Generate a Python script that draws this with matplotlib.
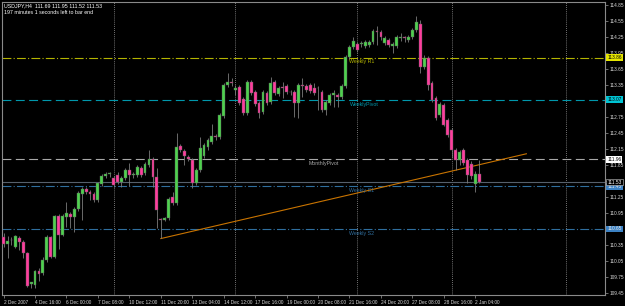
#!/usr/bin/env python3
import matplotlib
matplotlib.use('Agg')
import matplotlib.pyplot as plt
import matplotlib.transforms as mtransforms

# H4 candles USDJPY (open, high, low, close)
opens = [110.50, 110.37, 110.44, 110.31, 110.48, 110.41, 110.20, 109.62, 109.60, 109.86,
         109.82, 110.07, 110.50, 110.12, 110.89, 110.54, 110.87, 110.93, 110.87, 111.02,
         111.31, 111.40, 111.34, 111.31, 111.19, 111.49, 111.64, 111.68, 111.61, 111.66,
         111.53, 111.61, 111.76, 111.66, 111.66, 111.79, 111.70, 111.85, 111.96, 111.62,
         110.84, 110.82, 110.86, 111.25, 111.14, 112.21, 112.11, 112.00, 111.94, 111.51,
         111.76, 112.02, 112.19, 112.28, 112.39, 112.37, 112.77, 113.35, 113.41, 113.26,
         113.31, 113.09, 112.82, 113.41, 113.22, 113.01, 112.84, 113.20, 113.03, 113.41,
         113.18, 113.31, 113.33, 113.22, 113.22, 113.01, 113.35, 113.33, 113.35, 113.29,
         113.29, 113.22, 112.88, 113.01, 113.16, 113.16, 113.12, 113.33, 113.87, 114.06,
         114.12, 114.12, 114.08, 114.10, 114.16, 114.36, 114.34, 114.14, 114.19, 114.08,
         114.08, 114.23, 114.24, 114.19, 114.25, 114.38, 114.49, 113.69, 113.86, 113.39,
         113.11, 112.79, 112.97, 112.69, 112.51, 112.13, 111.94, 112.13, 111.94, 111.87,
         111.50, 111.69]
highs = [110.57, 110.52, 110.50, 110.54, 110.52, 110.44, 110.22, 109.66, 109.88, 109.92,
         110.12, 110.54, 110.52, 110.92, 110.93, 110.93, 111.15, 110.97, 111.06, 111.36,
         111.44, 111.44, 111.38, 111.34, 111.53, 111.68, 111.72, 111.72, 111.64, 111.72,
         111.64, 111.79, 111.89, 111.72, 111.85, 111.83, 111.91, 112.13, 112.00, 111.79,
         110.86, 110.88, 111.25, 111.34, 112.45, 112.24, 112.15, 112.04, 111.98, 111.79,
         112.37, 112.26, 112.36, 112.62, 112.43, 112.82, 113.39, 113.57, 113.48, 113.35,
         113.35, 113.12, 113.44, 113.44, 113.26, 113.05, 113.26, 113.24, 113.50, 113.44,
         113.33, 113.41, 113.37, 113.26, 113.26, 113.39, 113.48, 113.37, 113.39, 113.39,
         113.33, 113.26, 113.07, 113.20, 113.26, 113.20, 113.37, 113.91, 114.10, 114.25,
         114.16, 114.17, 114.19, 114.19, 114.40, 114.46, 114.38, 114.27, 114.23, 114.16,
         114.29, 114.32, 114.27, 114.29, 114.42, 114.64, 114.57, 113.91, 113.89, 113.42,
         113.14, 113.03, 113.01, 112.73, 112.54, 112.17, 112.13, 112.17, 111.98, 111.92,
         111.73, 111.95]
lows = [110.31, 110.11, 110.35, 110.29, 110.26, 110.11, 109.56, 109.54, 109.55, 109.67,
        109.78, 110.03, 110.11, 110.10, 110.27, 110.52, 110.69, 110.67, 110.59, 110.99,
        110.82, 111.31, 111.19, 111.16, 111.16, 111.45, 111.61, 111.62, 111.44, 111.49,
        111.44, 111.57, 111.46, 111.61, 111.62, 111.63, 111.66, 111.81, 111.44, 110.67,
        110.48, 110.80, 110.82, 111.10, 111.10, 112.09, 111.85, 111.92, 111.42, 111.47,
        111.72, 111.98, 112.13, 112.24, 112.32, 112.34, 112.73, 113.31, 113.33, 113.16,
        112.98, 112.79, 112.79, 113.16, 112.96, 112.73, 112.81, 112.98, 112.99, 113.16,
        113.14, 113.11, 113.18, 113.16, 112.75, 112.73, 113.12, 113.22, 113.20, 113.16,
        112.88, 112.84, 112.79, 112.97, 112.94, 112.94, 113.09, 113.29, 113.84, 114.02,
        113.97, 114.06, 114.04, 114.06, 114.12, 114.10, 114.19, 114.10, 114.06, 113.95,
        114.04, 114.17, 114.16, 114.16, 114.21, 114.34, 113.57, 113.65, 113.26, 113.03,
        112.69, 112.75, 112.58, 112.37, 111.98, 111.76, 111.85, 111.85, 111.51, 111.58,
        111.34, 111.52]
closes = [110.37, 110.43, 110.45, 110.52, 110.41, 110.20, 109.58, 109.65, 109.86, 109.81,
          110.07, 110.50, 110.12, 110.89, 110.54, 110.89, 110.95, 110.87, 111.02, 111.32,
          111.40, 111.34, 111.31, 111.19, 111.51, 111.64, 111.68, 111.69, 111.48, 111.53,
          111.61, 111.76, 111.66, 111.67, 111.81, 111.66, 111.87, 111.96, 111.62, 111.01,
          110.82, 110.86, 111.21, 111.14, 112.19, 112.13, 112.02, 111.96, 111.51, 111.76,
          112.17, 112.22, 112.32, 112.39, 112.37, 112.79, 113.35, 113.41, 113.39, 113.29,
          113.01, 112.82, 113.41, 113.20, 112.99, 112.82, 113.22, 113.01, 113.39, 113.20,
          113.29, 113.30, 113.22, 113.21, 113.01, 113.35, 113.34, 113.26, 113.24, 113.20,
          113.30, 112.88, 113.03, 113.16, 113.20, 113.12, 113.33, 113.87, 114.06, 114.17,
          114.01, 114.14, 114.16, 114.16, 114.36, 114.35, 114.25, 114.23, 114.10, 114.12,
          114.25, 114.24, 114.23, 114.25, 114.38, 114.53, 113.69, 113.86, 113.35, 113.07,
          112.73, 112.99, 112.60, 112.41, 112.13, 111.94, 112.09, 111.89, 111.66, 111.64,
          111.68, 111.53]

time_labels = ['2 Dec 2007', '4 Dec 16:00', '6 Dec 00:00', '7 Dec 08:00', '10 Dec 12:00',
               '11 Dec 20:00', '13 Dec 04:00', '14 Dec 12:00', '17 Dec 16:00', '19 Dec 00:00',
               '20 Dec 08:00', '21 Dec 16:00', '24 Dec 20:00', '27 Dec 08:00', '28 Dec 16:00',
               '2 Jan 04:00']
label_step = 8

price_ticks = [114.85, 114.55, 114.25, 113.95, 113.65, 113.35, 113.05, 112.75, 112.45,
               112.15, 111.85, 111.55, 111.25, 110.95, 110.65, 110.35, 110.05, 109.75, 109.45]

# pivot levels drawn by the indicator
level_names = ['Weekly R1', 'WeeklyPivot', 'MonthlyPivot', 'Weekly S1', 'Weekly S2']
level_prices = [113.86, 113.07, 111.96, 111.45, 110.65]
level_colors = ['#b4b400', '#0098ac', '#a8a8a8', '#2f6e9e', '#2f6e9e']
level_styles = [(0, (8, 2, 1, 2)), (0, (8, 4)), (0, (8, 4)), (0, (8, 2, 1, 2)), (0, (8, 2, 1, 2))]
level_boxes = ['#e6e600', '#00c4d4', '#ffffff', '#3c82c4', '#3c82c4']
level_label_bar = [88, 88, 77.5, 88, 88]

bid = 111.53
trend_bars = [40, 133]
trend_prices = [110.47, 112.06]
week_lines = [28, 59, 90, 114, 143]

BULL = '#4ed24e'
BEAR = '#ff3d9e'
WICK = '#7c7c7c'
FONT = 'Liberation Sans'
FS = 3.4


def main():
    fig = plt.figure(figsize=(6.25, 3.06), dpi=100, facecolor='black')
    ax = fig.add_axes([2 / 625, 11 / 306, 603 / 625, 293 / 306])
    ax.set_facecolor('black')

    n = len(opens)
    xs = list(range(n))

    for x in week_lines:
        ax.axvline(x, color='#9a9a9a', lw=0.6, ls=(0, (1, 1.5)), zorder=1)

    for name, p, c, ls in zip(level_names, level_prices, level_colors, level_styles):
        ax.axhline(p, color=c, lw=0.8, ls=ls, zorder=1)
    ax.axhline(bid, color='#56606c', lw=0.8, zorder=1)

    ax.plot(trend_bars, trend_prices, color='#c97400', lw=0.8, zorder=2)

    # candles
    ax.vlines(xs, lows, highs, color=WICK, lw=0.6, zorder=3)
    bottoms = [min(o, c) for o, c in zip(opens, closes)]
    heights = [max(abs(c - o), 0.012) for o, c in zip(opens, closes)]
    colors = [BULL if c >= o else BEAR for o, c in zip(opens, closes)]
    ax.bar(xs, heights, bottom=bottoms, width=0.72, color=colors,
           edgecolor='#5a5a5a', linewidth=0.3, zorder=4)

    for name, p, c, xb in zip(level_names, level_prices, level_colors, level_label_bar):
        ax.text(xb, p - 0.03, name, color=c, fontsize=3.8, family=FONT,
                ha='left', va='top', zorder=5)

    ax.set_xlim(-0.4, 153)
    ax.set_ylim(109.412, 114.906)

    ticks = [i * label_step for i in range(len(time_labels))]
    ax.set_xticks(ticks)
    ax.set_xticklabels(time_labels, fontsize=FS, family=FONT, color='#d8d8d8')
    offset = mtransforms.ScaledTranslation(1.2 / 72, 0, fig.dpi_scale_trans)
    for lab in ax.get_xticklabels():
        lab.set_horizontalalignment('left')
        lab.set_transform(lab.get_transform() + offset)
    ax.tick_params(axis='x', colors='#9a9a9a', length=2.5, width=0.5, pad=0.8)

    # tick labels hidden under the level boxes are left blank
    covered = [p for p in price_ticks
               if any(abs(p - q) < 0.05 for q in level_prices + [bid])]
    ax.yaxis.tick_right()
    ax.set_yticks(price_ticks)
    ax.set_yticklabels(['' if p in covered else '%.2f' % p for p in price_ticks],
                       fontsize=FS, family=FONT, color='#d8d8d8')
    ax.tick_params(axis='y', colors='#9a9a9a', length=2, width=0.5, pad=1.5)
    for lab in ax.get_yticklabels() + ax.get_xticklabels():
        lab.set_color('#d8d8d8')

    for sp in ax.spines.values():
        sp.set_color('#8a8a8a')
        sp.set_linewidth(0.8)

    # price boxes on the scale
    tr = mtransforms.blended_transform_factory(ax.transAxes, ax.transData)
    for p, bc in zip(level_prices, level_boxes):
        tc = 'black' if bc in ('#e6e600', '#00c4d4', '#ffffff') else '#e8e8e8'
        ax.text(1.004, p, '%.2f' % p, transform=tr, fontsize=FS, family=FONT,
                color=tc, ha='left', va='center', clip_on=False, zorder=6,
                bbox=dict(boxstyle='square,pad=0.2', fc=bc, ec='none'))
    ax.text(1.004, bid, '%.2f' % bid, transform=tr, fontsize=FS, family=FONT,
            color='white', ha='left', va='center', clip_on=False, zorder=7,
            bbox=dict(boxstyle='square,pad=0.2', fc='black', ec='#c8c8c8', lw=0.4))

    ax.text(0.004, 0.995, 'USDJPY,H4  %.2f %.2f %.2f %.2f' % (opens[-1], highs[-1], lows[-1], closes[-1]),
            transform=ax.transAxes, fontsize=3.8, family=FONT, color='white',
            ha='left', va='top')
    ax.text(0.004, 0.972, '197 minutes 1 seconds left to bar end',
            transform=ax.transAxes, fontsize=3.8, family=FONT, color='white',
            ha='left', va='top')

    fig.savefig('out.png', dpi=100, facecolor='black')


if __name__ == '__main__':
    main()
